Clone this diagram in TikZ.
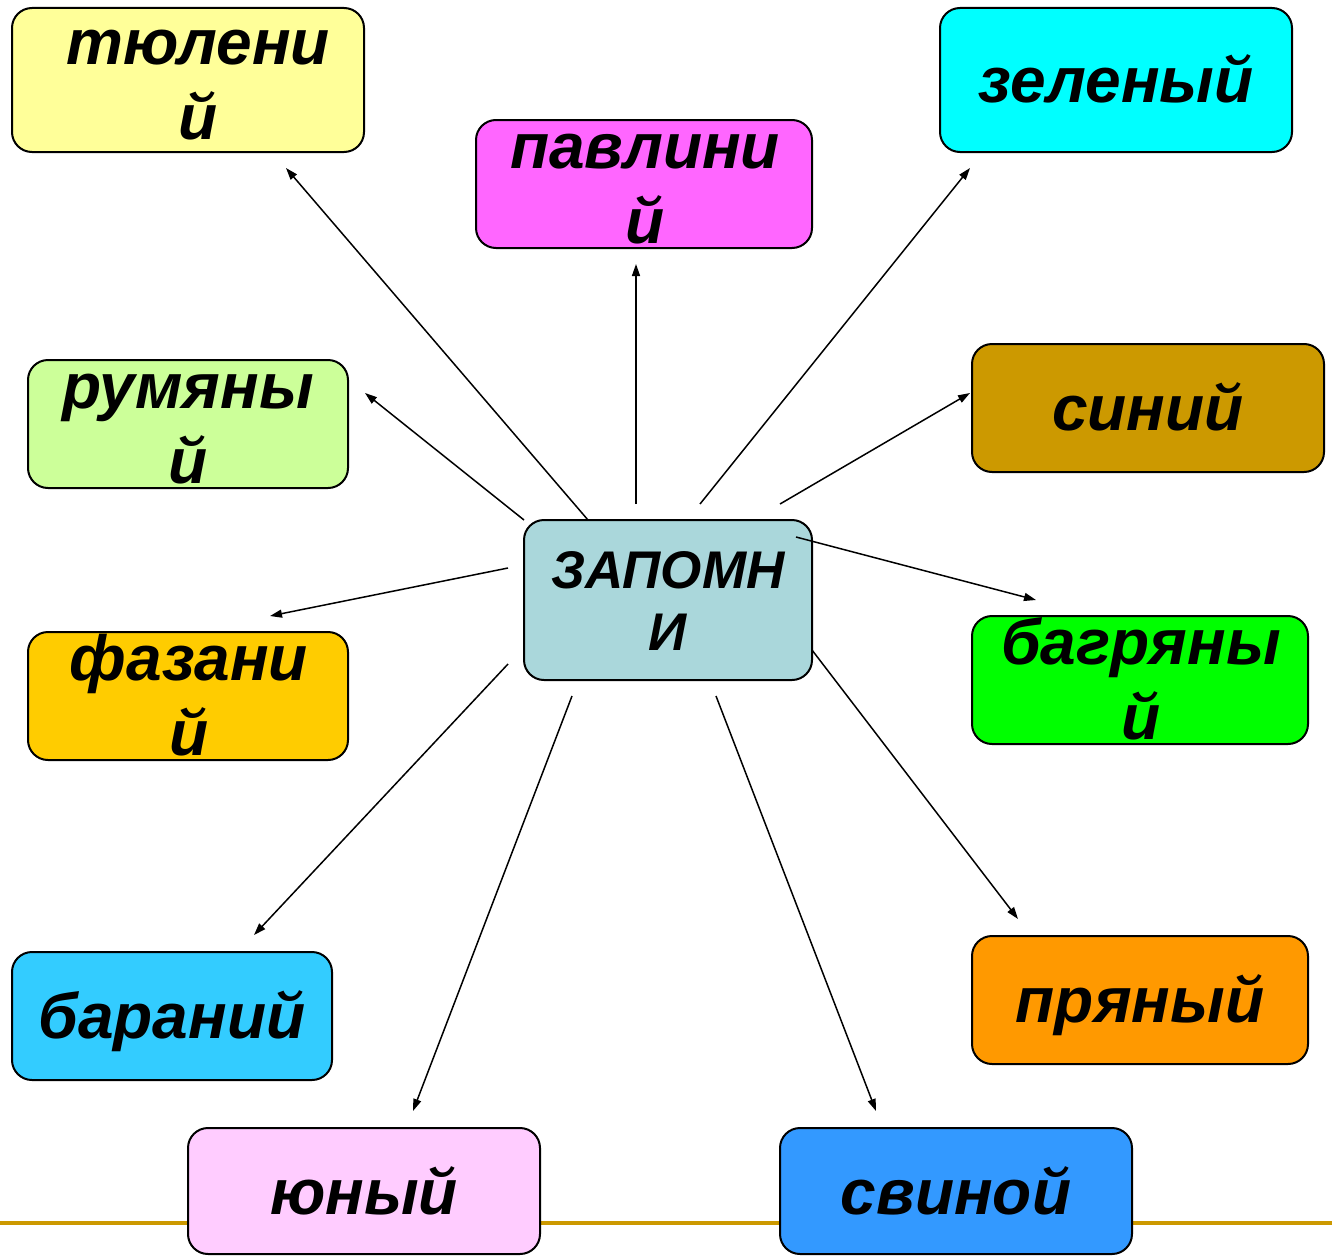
\documentclass[tikz,border=0pt]{standalone}
\usepackage{fontspec}
\setmainfont{Liberation Sans}
\usetikzlibrary{arrows.meta}
\definecolor{cTul}{HTML}{FFFF99}
\definecolor{cPav}{HTML}{FF66FF}
\definecolor{cZel}{HTML}{00FFFF}
\definecolor{cRum}{HTML}{CCFF99}
\definecolor{cSin}{HTML}{CC9900}
\definecolor{cZap}{HTML}{AAD7DB}
\definecolor{cFaz}{HTML}{FFCC00}
\definecolor{cBag}{HTML}{00FF00}
\definecolor{cBar}{HTML}{33CCFF}
\definecolor{cPry}{HTML}{FF9900}
\definecolor{cYun}{HTML}{FFCCFF}
\definecolor{cSvi}{HTML}{3399FF}
\definecolor{cLine}{HTML}{CC9900}
\begin{document}
\begin{tikzpicture}[x=1pt,y=-1pt,
  wbox/.style={draw=black, line width=2pt, rounded corners=20pt, inner sep=0pt},
  wtxt/.style={inner sep=0pt, anchor=base,
    font=\fontsize{64}{76}\selectfont\bfseries\itshape},
  ctxt/.style={inner sep=0pt, anchor=base,
    font=\fontsize{53}{62}\selectfont\bfseries\itshape},
  arr/.style={-{Triangle[length=12pt,width=8pt]}, line width=1.5pt}]
\useasboundingbox (0,0) rectangle (1332,1255);
\fill[white] (0,0) rectangle (1332,1255);
\coordinate (la) at (0,1223);
\coordinate (lb) at (1332,1223);
\draw[cLine, line width=4pt] (la) -- (lb);
% boxes
\node[wbox, fill=cTul, minimum width=352pt, minimum height=144pt] (tul) at (188,80) {};
\node[wbox, fill=cPav, minimum width=336pt, minimum height=128pt] (pav) at (644,184) {};
\node[wbox, fill=cZel, minimum width=352pt, minimum height=144pt] (zel) at (1116,80) {};
\node[wbox, fill=cRum, minimum width=320pt, minimum height=128pt] (rum) at (188,424) {};
\node[wbox, fill=cSin, minimum width=352pt, minimum height=128pt] (sin) at (1148,408) {};
\node[wbox, fill=cZap, minimum width=288pt, minimum height=160pt] (zap) at (668,600) {};
\node[wbox, fill=cFaz, minimum width=320pt, minimum height=128pt] (faz) at (188,696) {};
\node[wbox, fill=cBag, minimum width=336pt, minimum height=128pt] (bag) at (1140,680) {};
\node[wbox, fill=cBar, minimum width=320pt, minimum height=128pt] (bar) at (172,1016) {};
\node[wbox, fill=cPry, minimum width=336pt, minimum height=128pt] (pry) at (1140,1000) {};
\node[wbox, fill=cYun, minimum width=352pt, minimum height=126pt] (yun) at (364,1191) {};
\node[wbox, fill=cSvi, minimum width=352pt, minimum height=126pt] (svi) at (956,1191) {};
% texts (two-line words are broken as in the picture)
\node[wtxt] (tulA) at ([xshift=10pt,yshift=15.5pt]tul.center) {тюлени};
\node[wtxt] (tulB) at ([xshift=10pt,yshift=-59.5pt]tul.center) {й};
\node[wtxt] (pavA) at ([xshift=1pt,yshift=15.5pt]pav.center) {павлини};
\node[wtxt] (pavB) at ([xshift=1pt,yshift=-59.5pt]pav.center) {й};
\node[wtxt] (zelT) at ([yshift=-22.5pt]zel.center) {зеленый};
\node[wtxt] (sinT) at ([yshift=-22.5pt]sin.center) {синий};
\node[ctxt] (zapA) at ([yshift=12pt]zap.center) {ЗАПОМН};
\node[ctxt] (zapB) at ([yshift=-50pt]zap.center) {И};
\node[wtxt] (rumA) at ([yshift=15.5pt]rum.center) {румяны};
\node[wtxt] (rumB) at ([yshift=-59.5pt]rum.center) {й};
\node[wtxt] (fazA) at ([xshift=1pt,yshift=15.5pt]faz.center) {фазани};
\node[wtxt] (fazB) at ([xshift=1pt,yshift=-59.5pt]faz.center) {й};
\node[wtxt] (bagA) at ([xshift=1pt,yshift=15.5pt]bag.center) {багряны};
\node[wtxt] (bagB) at ([xshift=1pt,yshift=-59.5pt]bag.center) {й};
\node[wtxt] (barT) at ([yshift=-22.5pt]bar.center) {бараний};
\node[wtxt] (pryT) at ([yshift=-22.5pt]pry.center) {пряный};
\node[wtxt] (yunT) at ([yshift=-23.5pt]yun.center) {юный};
\node[wtxt] (sviT) at ([yshift=-23.5pt]svi.center) {свиной};
% arrow ends
\coordinate (s1) at (588,520);  \coordinate (e1) at (286,168);
\coordinate (s2) at (636,504);  \coordinate (e2) at (636,264);
\coordinate (s3) at (700,504);  \coordinate (e3) at (970,168);
\coordinate (s4) at (524,520);  \coordinate (e4) at (365,393);
\coordinate (s5) at (780,504);  \coordinate (e5) at (970,393);
\coordinate (s6) at (796,537);  \coordinate (e6) at (1036,600);
\coordinate (s7) at (508,568);  \coordinate (e7) at (270,616);
\coordinate (s8) at (508,664);  \coordinate (e8) at (254,935);
\coordinate (s9) at (572,696);  \coordinate (e9) at (413,1111);
\coordinate (s10) at (716,696); \coordinate (e10) at (876,1111);
\coordinate (s11) at (812,650); \coordinate (e11) at (1018,919);
\foreach \i in {1,...,11} {\draw[arr] (s\i) -- (e\i);}
\end{tikzpicture}
\end{document}
